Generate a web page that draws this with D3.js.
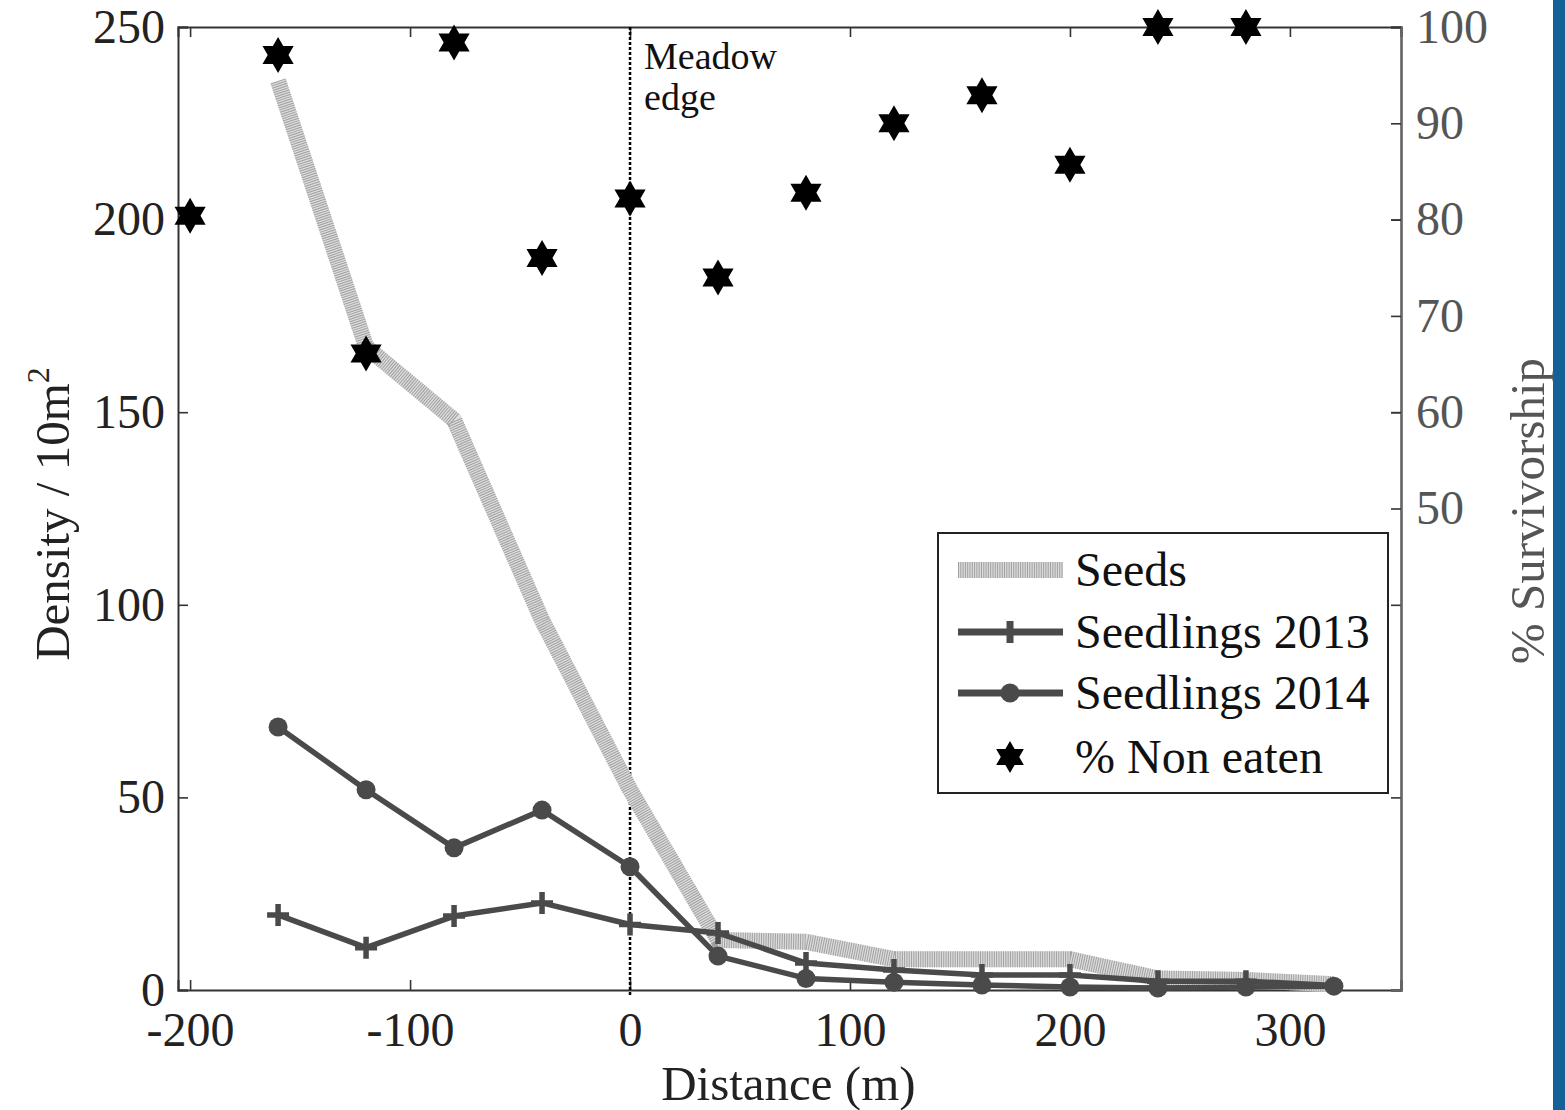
<!DOCTYPE html>
<html>
<head>
<meta charset="utf-8">
<script src="https://cdn.jsdelivr.net/npm/d3@7"></script>
<style>
  body { margin: 0; background: #fff; }
  text { font-family: "Liberation Serif", "Times New Roman", serif; }
</style>
</head>
<body>
<div id="chart"></div>
<script>
// data
const distance = [-160, -120, -80, -40, 0, 40, 80, 120, 160, 200, 240, 280, 320];
const seeds = [236, 167, 148, 96, 52, 13, 12.5, 8, 8, 8, 3, 2.6, 1.5];
const seedlings2013 = [19.5, 11, 19.2, 22.6, 17, 14.8, 7, 5.2, 3.9, 3.9, 2.3, 2.3, 1.2];
const seedlings2014 = [68.3, 52, 36.9, 46.7, 32, 8.8, 3, 2, 1.3, 0.8, 0.5, 0.8, 1];
const starDistance = [-200, -160, -120, -80, -40, 0, 40, 80, 120, 160, 200, 240, 280];
const nonEaten = [80.4, 97.1, 66.1, 98.4, 76, 82.2, 74, 82.8, 90, 92.9, 85.7, 100, 100];
const xTicks = [-200, -100, 0, 100, 200, 300];
const yTicks = [0, 50, 100, 150, 200, 250];
const y2Ticks = [50, 60, 70, 80, 90, 100];
const legendItems = ["Seeds", "Seedlings 2013", "Seedlings 2014", "% Non eaten"];

const W = 1565, H = 1110;
const margin = {top: 27, right: 164, bottom: 120, left: 178};
const width = W - margin.left - margin.right,
    height = H - margin.top - margin.bottom;

const svg = d3.select("#chart")
    .append("svg")
    .attr("width", W)
    .attr("height", H);

// blue strip at the right edge
svg.append("rect")
    .attr("x", 1553).attr("y", 0)
    .attr("width", W - 1553).attr("height", H)
    .attr("fill", "#156096");

const g = svg.append("g")
    .attr("transform", `translate(${margin.left},${margin.top})`);

const x = d3.scaleLinear().domain([-205.5, 350.5]).range([0, width]);
const y = d3.scaleLinear().domain([0, 250]).range([height, 0]);
const y2 = d3.scaleLinear().domain([0, 100]).range([height, 0]);

const fontSize = 48;
const hyphen = d => String(d); // plain hyphen minus like the original

// axes (ticks pointing inward)
const bottomAxis = g.append("g")
    .attr("transform", `translate(0,${height})`)
    .call(d3.axisBottom(x).tickValues(xTicks).tickSize(-10).tickPadding(19).tickFormat(hyphen));
const topAxis = g.append("g")
    .call(d3.axisTop(x).tickValues(xTicks).tickSize(-10).tickFormat(""));
const leftAxis = g.append("g")
    .call(d3.axisLeft(y).tickValues(yTicks).tickSize(-10).tickPadding(13));
const rightMirror = g.append("g")
    .attr("transform", `translate(${width},0)`)
    .call(d3.axisRight(y).tickValues(yTicks).tickSize(-10).tickFormat(""));
const rightAxis = g.append("g")
    .attr("transform", `translate(${width},0)`)
    .call(d3.axisRight(y2).tickValues(y2Ticks).tickSize(-10).tickPadding(15));

[bottomAxis, topAxis, leftAxis, rightMirror, rightAxis].forEach(a => {
    a.select(".domain").attr("stroke", "#333").attr("stroke-width", 2);
    a.selectAll(".tick line").attr("stroke", "#333").attr("stroke-width", 1.6);
    a.selectAll("text")
        .style("font-family", "'Liberation Serif', serif")
        .style("font-size", fontSize + "px")
        .attr("fill", "#222");
});
rightAxis.select(".domain").attr("stroke", "#666");
rightAxis.selectAll("text").attr("fill", "#555");
bottomAxis.selectAll("text").attr("dy", "0.78em");

// axis titles
g.append("text")
    .attr("x", x(72)).attr("y", height + 110)
    .attr("text-anchor", "middle")
    .style("font-size", "49px")
    .attr("fill", "#222")
    .text("Distance (m)");

const yt = g.append("text")
    .attr("transform", `translate(${-109},${514 - margin.top}) rotate(-90)`)
    .attr("text-anchor", "middle")
    .style("font-size", "49px")
    .attr("fill", "#222");
yt.append("tspan").text("Density / 10m");
yt.append("tspan").attr("dy", -20).style("font-size", "32px").text("2");

g.append("text")
    .attr("transform", `translate(${width + 143},${511 - margin.top}) rotate(-90)`)
    .attr("text-anchor", "middle")
    .style("font-size", "49px")
    .attr("fill", "#555")
    .text("% Survivorship");

// meadow edge
g.append("line")
    .attr("x1", x(0)).attr("x2", x(0))
    .attr("y1", 0).attr("y2", height + 7)
    .attr("stroke", "#000").attr("stroke-width", 2.5)
    .attr("stroke-dasharray", "3 2");
g.append("text")
    .attr("x", x(0) + 14).attr("y", 42)
    .style("font-size", "38px").attr("fill", "#111")
    .text("Meadow");
g.append("text")
    .attr("x", x(0) + 14).attr("y", 83)
    .style("font-size", "38px").attr("fill", "#111")
    .text("edge");

// seeds line: light band with fine stripes across it
const seedLine = d3.line().x((d, i) => x(distance[i])).y(d => y(d));
function drawSeedBand(sel, path) {
    sel.append("path").attr("d", path)
        .attr("fill", "none").attr("stroke", "#dcdcdc").attr("stroke-width", 16);
    sel.append("path").attr("d", path)
        .attr("fill", "none").attr("stroke", "#a0a0a0").attr("stroke-width", 16)
        .attr("stroke-dasharray", "1 1.3");
}
drawSeedBand(g.append("g"), seedLine(seeds));

const lineColor = "#4a4a4a";
const seedlingLine = d3.line().x((d, i) => x(distance[i])).y(d => y(d));

// seedlings 2014
g.append("path")
    .attr("d", seedlingLine(seedlings2014))
    .attr("fill", "none").attr("stroke", lineColor).attr("stroke-width", 5.5)
    .attr("stroke-linejoin", "round");
g.append("g").selectAll("circle")
    .data(seedlings2014)
    .join("circle")
    .attr("cx", (d, i) => x(distance[i]))
    .attr("cy", d => y(d))
    .attr("r", 9.5)
    .attr("fill", lineColor);

// seedlings 2013
g.append("path")
    .attr("d", seedlingLine(seedlings2013))
    .attr("fill", "none").attr("stroke", lineColor).attr("stroke-width", 5.5)
    .attr("stroke-linejoin", "round");
const plus = (cx, cy, s) => `M${cx - s},${cy}H${cx + s}M${cx},${cy - s}V${cy + s}`;
g.append("g").selectAll("path")
    .data(seedlings2013.slice(0, 12))
    .join("path")
    .attr("d", (d, i) => plus(x(distance[i]), y(d), 11))
    .attr("stroke", lineColor).attr("stroke-width", 5.5).attr("fill", "none");

// six-pointed stars
function hexagram(cx, cy, R) {
    const r = R / Math.sqrt(3);
    const pts = d3.range(12).map(k => {
        const a = -Math.PI / 2 + k * Math.PI / 6;
        const rr = k % 2 === 0 ? R : r;
        return [cx + rr * Math.cos(a), cy + rr * Math.sin(a)];
    });
    return "M" + pts.join("L") + "Z";
}
g.append("g").selectAll("path")
    .data(nonEaten)
    .join("path")
    .attr("d", (d, i) => hexagram(x(starDistance[i]), y2(d), 18))
    .attr("fill", "#000");

// legend
const lg = svg.append("g").attr("transform", "translate(938,533)");
lg.append("rect")
    .attr("width", 450).attr("height", 260)
    .attr("fill", "#fff").attr("stroke", "#222").attr("stroke-width", 2);
const rowY = [37, 99, 160, 224];
legendItems.forEach((name, i) => {
    const cy = rowY[i];
    if (i === 0) {
        drawSeedBand(lg, `M20,${cy}H125`);
    } else if (i < 3) {
        lg.append("path").attr("d", `M20,${cy}H125`)
            .attr("stroke", lineColor).attr("stroke-width", 7);
        if (i === 1) {
            lg.append("path").attr("d", `M72,${cy - 11}V${cy + 11}`)
                .attr("stroke", lineColor).attr("stroke-width", 7);
        } else {
            lg.append("circle").attr("cx", 72).attr("cy", cy).attr("r", 9.5).attr("fill", lineColor);
        }
    } else {
        lg.append("path").attr("d", hexagram(72, cy, 16)).attr("fill", "#000");
    }
    lg.append("text")
        .attr("x", 137).attr("y", cy + 16)
        .style("font-size", fontSize + "px")
        .attr("fill", "#111")
        .text(name);
});
</script>
</body>
</html>
